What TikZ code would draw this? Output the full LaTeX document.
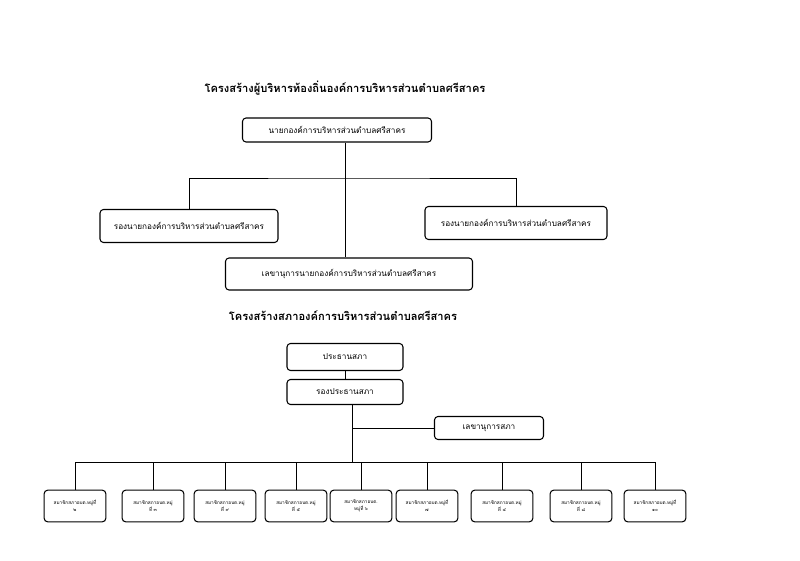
\documentclass[tikz,border=0pt]{standalone}
\usepackage{fontspec}
\setmainfont[Script=Thai]{Loma}
\usetikzlibrary{positioning}

\begin{document}
\begin{tikzpicture}[
    x=0.03cm, y=-0.03cm,
    unit/.style={draw, rounded corners=3pt, line width=0.9pt, font=\fontsize{7}{8}\selectfont, align=center, inner sep=1pt},
    member/.style={unit, minimum width=1.85cm, minimum height=0.95cm, font=\fontsize{4}{6}\selectfont},
    title/.style={font=\fontsize{9.5}{11}\selectfont\bfseries},
    link/.style={line width=0.5pt}
]
\useasboundingbox (0,0) rectangle (800,561);

% Executive structure
\node[title] (t1) at (345,88) {โครงสร้างผู้บริหารท้องถิ่นองค์การบริหารส่วนตำบลศรีสาคร};
\node[unit, minimum width=5.67cm, minimum height=0.72cm] (mayor) at (337,130) {นายกองค์การบริหารส่วนตำบลศรีสาคร};
\node[unit, minimum width=5.34cm, minimum height=0.99cm] (vice1) at (189,226) {รองนายกองค์การบริหารส่วนตำบลศรีสาคร};
\node[unit, minimum width=5.46cm, minimum height=0.99cm] (vice2) at (516,223) {รองนายกองค์การบริหารส่วนตำบลศรีสาคร};
\node[unit, minimum width=7.41cm, minimum height=0.96cm] (msec) at (349,274) {เลขานุการนายกองค์การบริหารส่วนตำบลศรีสาคร};

\coordinate (j1) at (345,178);
\draw[link] (mayor.south -| j1) -- (msec.north -| j1);
\draw[link] (vice1.north) |- (j1) -| (vice2.north);

% Council structure
\node[title] (t2) at (343,316) {โครงสร้างสภาองค์การบริหารส่วนตำบลศรีสาคร};
\node[unit, minimum width=3.48cm, minimum height=0.81cm] (chair) at (345,357) {ประธานสภา};
\node[unit, minimum width=3.48cm, minimum height=0.75cm] (vchair) at (345,392) {รองประธานสภา};
\node[unit, minimum width=3.27cm, minimum height=0.69cm] (csec) at (489,428) {เลขานุการสภา};

\draw[link] (chair) -- (vchair);
\coordinate (j2) at (352,462);
\draw[link] (vchair.south -| j2) -- (j2);
\draw[link] (csec.west) -- (csec.west -| j2);

% Council members
\foreach \n/\x/\t in {1/75/{สมาชิกสภาอบต.หมู่ที่\\๒}, 2/153/{สมาชิกสภาอบต.หมู่\\ที่ ๓}, 3/225/{สมาชิกสภาอบต.หมู่\\ที่ ๙}, 4/296/{สมาชิกสภาอบต.หมู่\\ที่ ๕}, 5/361/{สมาชิกสภาอบต.\\หมู่ที่ ๖}, 6/427/{สมาชิกสภาอบต.หมู่ที่\\๗}, 7/502/{สมาชิกสภาอบต.หมู่\\ที่ ๔}, 8/581/{สมาชิกสภาอบต.หมู่\\ที่ ๘}, 9/655/{สมาชิกสภาอบต.หมู่ที่\\๑๐}} {
    \node[member] (m\n) at (\x,506) {\t};
    \draw[link] (m\n.north) -- (\x,462);
}
\draw[link] (m1.north |- j2) -- (m9.north |- j2);

\end{tikzpicture}
\end{document}
